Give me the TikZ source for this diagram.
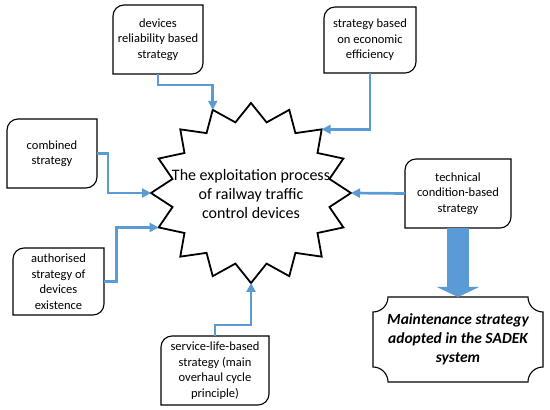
\documentclass[tikz,border=0pt]{standalone}
\usepackage{fontspec}
\setmainfont{Carlito}
\usetikzlibrary{arrows.meta}
\definecolor{obl}{HTML}{5B9BD5}
\tikzset{
  txtbox/.style={inner sep=0pt, outer sep=0pt, align=center, font=\fontsize{12.5}{15.5}\selectfont},
  boxline/.style={draw=black, line width=1.1pt},
  conn/.style={draw=obl, line width=2.7pt, -{Triangle[length=9pt,width=9pt]}},
  bigarrow/.style={draw=obl, line width=22pt, -{Triangle[length=10pt,width=42pt]}},
  starline/.style={draw=black, line width=1.8pt, line join=miter, fill=white},
}
\newcommand\rdoutline[1]{%
  \draw[boxline] ([yshift=-11pt]#1.north west) arc[start angle=180,end angle=90,radius=11pt]
    -- (#1.north east) -- ([yshift=11pt]#1.south east) arc[start angle=0,end angle=-90,radius=11pt]
    -- (#1.south west) -- cycle;}
\newcommand\plaqueoutline[1]{%
  \draw[boxline] ([xshift=15pt]#1.north west) -- ([xshift=-15pt]#1.north east)
    arc[start angle=180,end angle=270,radius=15pt] -- ([yshift=15pt]#1.south east)
    arc[start angle=90,end angle=180,radius=15pt] -- ([xshift=15pt]#1.south west)
    arc[start angle=0,end angle=90,radius=15pt] -- ([yshift=-15pt]#1.north west)
    arc[start angle=270,end angle=360,radius=15pt] -- cycle;}
\begin{document}
\begin{tikzpicture}[x=1pt,y=1pt]
\useasboundingbox (0,0) rectangle (550,410);
\fill[white] (0,0) rectangle (550,410);
\coordinate (c) at (251,217);
\draw[starline] plot[samples at={0,...,31}] ({251+(100-20*isodd(\x))*cos(\x*11.25)},{217+(90-18*isodd(\x))*sin(\x*11.25)}) -- cycle;
\node[font=\fontsize{16}{19}\selectfont, align=center, inner sep=0pt] (proc) at (251,216) {The exploitation process\\of railway traffic\\control devices};
\coordinate (t0) at ([shift={(c)}]0:100 and 90);
\coordinate (t45) at ([shift={(c)}]45:100 and 90);
\coordinate (t112) at ([shift={(c)}]112.5:100 and 90);
\coordinate (t180) at ([shift={(c)}]180:100 and 90);
\coordinate (t202) at ([shift={(c)}]202.5:100 and 90);
\coordinate (t270) at ([shift={(c)}]270:100 and 90);

\node[txtbox, minimum width=90pt, minimum height=69pt] (dev) at (158,370.5) {devices\\reliability based\\strategy};
\rdoutline{dev}
\node[txtbox, minimum width=92pt, minimum height=66pt] (eco) at (370,370) {strategy based\\on economic\\efficiency};
\rdoutline{eco}
\node[txtbox, minimum width=90pt, minimum height=69pt] (comb) at (52,256.5) {combined\\strategy};
\rdoutline{comb}
\node[txtbox, minimum width=91pt, minimum height=67pt] (auth) at (58.5,128.5) {authorised\\strategy of\\devices\\existence};
\rdoutline{auth}
\node[txtbox, minimum width=108pt, minimum height=69pt] (serv) at (215,39.5) {service-life-based\\strategy (main\\overhaul cycle\\principle)};
\rdoutline{serv}
\node[txtbox, minimum width=106pt, minimum height=69pt] (tech) at (458,216.5) {technical\\condition-based\\strategy};
\rdoutline{tech}
\node[txtbox, font=\fontsize{15.5}{19}\selectfont\bfseries\itshape, minimum width=170pt, minimum height=85pt] (maint) at (458,70.5) {Maintenance strategy\\adopted in the SADEK\\system};
\plaqueoutline{maint}

\draw[bigarrow] (tech.south) -- (maint.north);
\draw[conn] (dev.south) |- ([yshift=25pt]t112) -- (t112);
\draw[conn] (eco.south) |- (t45);
\draw[conn] (comb.east) -| ([xshift=-43pt]t180) -- (t180);
\draw[conn] (auth.east) -| ([xshift=-42pt]t202) -- (t202);
\draw[conn] (serv.north) |- ([yshift=-42pt]t270) -- (t270);
\draw[conn] (tech.west) -- (t0);
\end{tikzpicture}
\end{document}
